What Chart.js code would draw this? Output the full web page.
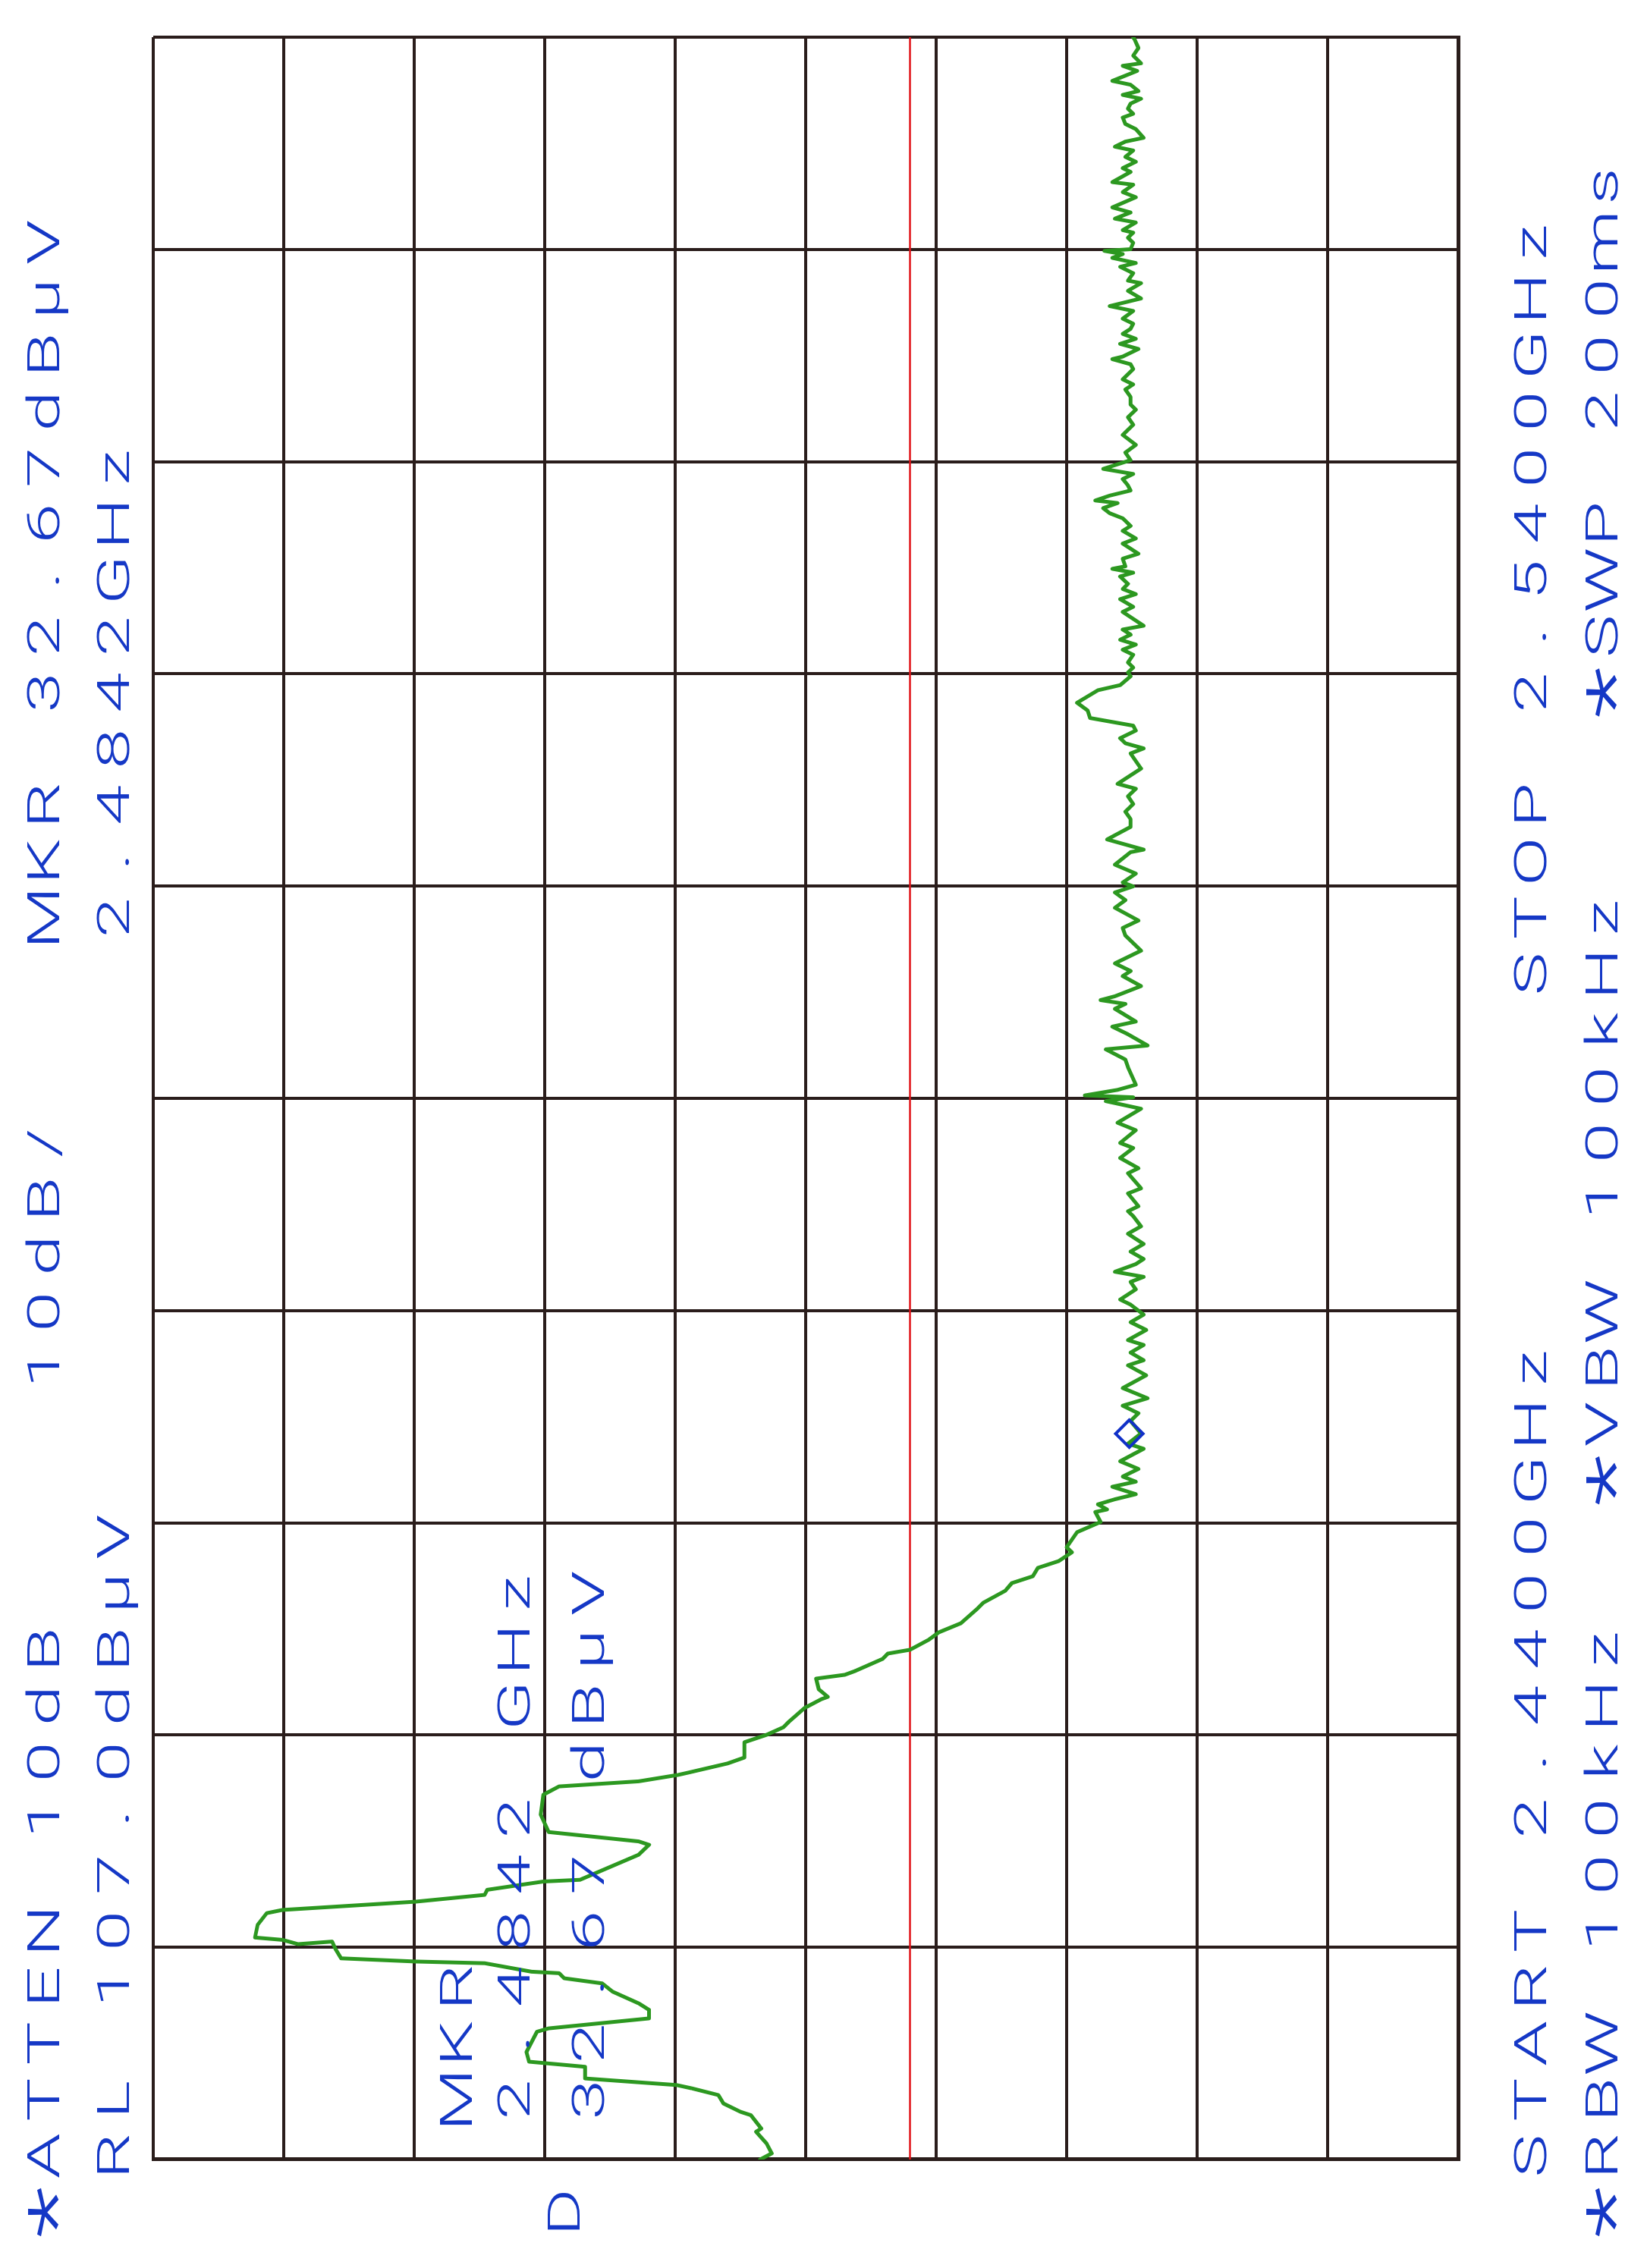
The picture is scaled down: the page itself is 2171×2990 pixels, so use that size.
<!DOCTYPE html>
<html>
<head>
<meta charset="utf-8">
<script src="https://cdn.jsdelivr.net/npm/chart.js@4.4.1/dist/chart.umd.min.js"></script>
<style>
  html, body { margin:0; padding:0; background:#ffffff; width:2171px; height:2990px; overflow:hidden; }
  #wrap { position:absolute; left:0; top:0; width:2990px; height:2171px;
          transform-origin:0 0; transform:translate(0px,2990px) rotate(-90deg); background:#ffffff; }
  canvas { display:block; }
</style>
</head>
<body>
<div id="wrap"><canvas id="c" width="2990" height="2171"></canvas></div>
<script>
// ---- data ----
const freqStartGHz = 2.44;
const freqStopGHz = 2.54;
const refLevel = 107;   // dBµV, top of screen
const bottomLevel = 7;  // dBµV, bottom of screen (10 dB/div)
const displayLine = [49.0];   // red display line, dBµV
const markerFreq = [2.4742];
const markerLevel = [32.2];

const traceFreq = [
2.44000,2.44029,2.44076,2.44131,2.44146,2.44209,2.44225,2.44264,2.44304,2.44335,
2.44351,2.44382,2.44437,2.44461,2.44507,2.44602,2.44618,2.44665,2.44705,2.44736,
2.44791,2.44830,2.44854,2.44878,2.44885,2.44925,2.44933,2.44948,2.44988,2.45027,
2.45015,2.45035,2.45046,2.45106,2.45161,2.45176,2.45215,2.45247,2.45271,2.45310,
2.45318,2.45436,2.45483,2.45499,2.45543,2.45625,2.45719,2.45758,2.45782,2.45812,
2.45823,2.45866,2.45894,2.45966,2.46001,2.46037,2.46062,2.46127,2.46169,2.46180,
2.46216,2.46266,2.46284,2.46302,2.46359,2.46384,2.46402,2.46448,2.46484,2.46527,
2.46598,2.46623,2.46680,2.46716,2.46748,2.46788,2.46820,2.46861,2.46885,2.46956,
2.47004,2.47051,2.47063,2.47087,2.47111,2.47135,2.47170,2.47194,2.47218,2.47254,
2.47290,2.47349,2.47373,2.47421,2.47480,2.47516,2.47552,2.47587,2.47635,2.47695,
2.47742,2.47766,2.47802,2.47838,2.47861,2.47909,2.47945,2.47981,2.48028,2.48052,
2.48100,2.48135,2.48159,2.48183,2.48219,2.48243,2.48278,2.48314,2.48362,2.48397,
2.48445,2.48468,2.48492,2.48552,2.48576,2.48647,2.48671,2.48719,2.48766,2.48790,
2.48850,2.48885,2.48951,2.48987,2.49005,2.49014,2.49040,2.49064,2.49147,2.49183,
2.49231,2.49249,2.49302,2.49338,2.49362,2.49422,2.49445,2.49463,2.49481,2.49529,
2.49576,2.49600,2.49636,2.49696,2.49767,2.49803,2.49838,2.49898,2.49934,2.49970,
2.49999,2.50017,2.50059,2.50101,2.50160,2.50172,2.50220,2.50279,2.50316,2.50351,
2.50387,2.50423,2.50459,2.50482,2.50554,2.50625,2.50649,2.50673,2.50697,2.50733,
2.50756,2.50792,2.50828,2.50864,2.50923,2.50947,2.50989,2.51007,2.51030,2.51054,
2.51090,2.51114,2.51138,2.51161,2.51185,2.51209,2.51227,2.51292,2.51316,2.51352,
2.51376,2.51400,2.51424,2.51459,2.51477,2.51495,2.51507,2.51543,2.51566,2.51614,
2.51638,2.51674,2.51697,2.51733,2.51757,2.51781,2.51805,2.51817,2.51840,2.51864,
2.51888,2.51918,2.51942,2.51966,2.52007,2.52043,2.52079,2.52126,2.52174,2.52209,
2.52245,2.52269,2.52305,2.52340,2.52364,2.52388,2.52436,2.52459,2.52483,2.52495,
2.52531,2.52555,2.52579,2.52602,2.52626,2.52650,2.52674,2.52710,2.52733,2.52769,
2.52805,2.52841,2.52853,2.52888,2.52918,2.52936,2.52960,2.52978,2.52993,2.53001,
2.53031,2.53055,2.53079,2.53091,2.53127,2.53145,2.53174,2.53198,2.53246,2.53270,
2.53305,2.53317,2.53365,2.53383,2.53413,2.53436,2.53466,2.53484,2.53508,2.53526,
2.53567,2.53591,2.53621,2.53639,2.53663,2.53687,2.53710,2.53728,2.53746,2.53776,
2.53794,2.53841,2.53865,2.53877,2.53913,2.53949,2.53990,2.54000
];
const traceLevel = [
60.5,59.6,60.0,60.8,60.4,61.2,62.0,63.3,63.7,65.7,
66.9,73.9,73.9,78.2,78.4,77.6,76.7,69.0,69.0,69.8,
71.8,72.6,75.5,75.9,78.0,81.6,86.9,92.6,93.0,93.3,
95.9,97.1,99.2,99.0,98.3,97.1,86.9,81.6,81.4,77.1,
74.3,69.8,69.0,69.8,76.7,77.3,77.1,75.9,69.8,66.8,
66.0,63.0,61.7,61.7,60.0,58.7,58.3,57.1,55.8,55.3,
56.0,56.2,54.0,53.2,51.1,50.7,49.0,47.6,46.8,45.1,
43.8,43.4,41.7,41.2,39.6,39.2,37.6,36.6,37.0,36.2,
34.4,34.8,33.9,34.6,33.3,31.7,33.5,31.7,32.7,31.5,
32.9,31.1,32.3,31.3,32.1,31.5,32.7,30.8,32.7,30.9,
32.3,31.1,32.1,31.1,32.3,30.9,32.1,31.1,32.1,32.9,
31.7,32.1,31.1,33.3,31.7,31.1,32.1,31.1,32.3,31.3,
31.9,32.3,31.5,32.3,31.3,32.3,31.5,32.9,31.9,32.9,
31.7,33.1,31.3,34.0,31.9,35.6,33.1,31.7,32.3,32.5,
34.0,30.8,32.3,33.5,31.7,33.3,32.5,34.4,33.3,31.3,
32.7,32.1,33.3,31.3,32.5,32.7,31.5,33.3,32.5,33.3,
31.9,32.7,31.7,33.3,32.1,31.1,33.9,32.1,32.1,32.5,
31.9,32.3,31.7,33.1,31.3,32.1,31.1,32.5,32.9,31.7,
31.9,35.2,35.4,36.2,34.6,32.9,32.1,32.3,31.9,32.3,
31.9,32.7,31.7,32.9,32.1,32.7,31.1,32.7,31.9,32.9,
31.7,32.7,32.3,32.9,31.9,33.5,32.5,32.7,31.5,32.7,
31.7,32.7,32.1,32.7,33.7,34.2,33.1,34.8,33.7,32.1,
32.3,32.7,31.9,34.2,32.1,32.5,31.7,32.7,31.9,32.3,
31.7,32.1,32.1,32.5,31.9,32.7,31.9,32.1,33.5,32.7,
31.5,32.9,31.7,32.7,32.1,31.9,32.7,31.9,33.7,31.3,
32.3,31.3,32.3,31.9,32.9,31.7,33.5,32.7,34.1,32.1,
31.9,32.3,31.9,32.7,31.7,33.3,32.1,33.5,31.7,32.7,
31.9,33.5,32.1,32.7,31.7,32.5,31.9,33.3,32.5,31.1,
31.7,32.5,32.7,31.9,32.3,32.1,31.3,32.7,31.5,32.1,
33.5,31.6,32.7,31.3,31.9,31.5,31.8,31.9
];

// annotation texts (plotter-style, monospace cells)
const headerLine1 = "*ATTEN 10dB    10dB/   MKR 32.67dBµV";
const headerLine2 = " RL 107.0dBµV          2.4842GHz";
const footerLine1 = " START 2.4400GHz      STOP 2.5400GHz";
const footerLine2 = "*RBW 100kHz  *VBW 100kHz   *SWP 200ms";
const markerLines = ["  MKR", "  2.4842 GHz", "  32.67 dBµV"];
const displayTag = ["D"];

// ---- drawing ----
const tracePts = traceFreq.map((f, i) => ({ x: f, y: traceLevel[i] }));
const linePts = [{ x: freqStartGHz, y: displayLine[0] }, { x: freqStopGHz, y: displayLine[0] }];
const markerPts = markerFreq.map((f, i) => ({ x: f, y: markerLevel[i] }));

const BLUE = '#1538c6';
const GRID = '#2a1d1b';

const textPlugin = {
  id: 'plotterText',
  afterDraw(chart) {
    const ctx = chart.ctx;
    const cell = 74.2, x0 = 47, glyphW = 53;
    const rows = [
      { s: headerLine1, base: 78 },
      { s: headerLine2, base: 170 },
      { s: markerLines[0], base: 622 },
      { s: markerLines[1], base: 698 },
      { s: displayTag[0], base: 764 },
      { s: markerLines[2], base: 796 },
      { s: footerLine1, base: 2038 },
      { s: footerLine2, base: 2132 }
    ];
    ctx.save();
    ctx.fillStyle = BLUE;
    ctx.textAlign = 'center';
    ctx.textBaseline = 'alphabetic';
    rows.forEach(r => {
      [...r.s].forEach((ch, i) => {
        if (ch === ' ') return;
        const cx = x0 + cell * i + glyphW / 2;
        ctx.save();
        ctx.translate(cx, r.base);
        ctx.scale(1.6, 1);
        if (ch === '*') {
          ctx.font = '300 100px Roboto';
          ctx.fillText(ch, 0, 30);
        } else {
          ctx.font = '300 60px Roboto';
          ctx.fillText(ch, 0, 0);
        }
        ctx.restore();
      });
    });
    ctx.restore();
  }
};

const bgPlugin = {
  id: 'bg',
  beforeDraw(chart) {
    const ctx = chart.ctx;
    ctx.save();
    ctx.fillStyle = '#ffffff';
    ctx.fillRect(0, 0, chart.width, chart.height);
    ctx.restore();
  }
};

new Chart(document.getElementById('c'), {
  type: 'scatter',
  data: {
    datasets: [
      { label: 'marker', data: markerPts, order: 0, showLine: false,
        pointStyle: 'rectRot', pointRadius: 18, pointBorderWidth: 4,
        pointBorderColor: '#1030c8', pointBackgroundColor: 'rgba(0,0,0,0)' },
      { label: 'trace', data: tracePts, order: 1, showLine: true,
        borderColor: '#2c9820', borderWidth: 5, pointRadius: 0, tension: 0,
        borderJoinStyle: 'round', borderCapStyle: 'round' },
      { label: 'display line', data: linePts, order: 2, showLine: true,
        borderColor: '#e0141a', borderWidth: 2.5, pointRadius: 0 }
    ]
  },
  options: {
    responsive: false,
    animation: false,
    devicePixelRatio: 1,
    layout: { padding: { left: 143, right: 49, top: 202, bottom: 249 } },
    plugins: { legend: { display: false }, tooltip: { enabled: false }, title: { display: false } },
    scales: {
      x: {
        type: 'linear', min: freqStartGHz, max: freqStopGHz,
        afterFit(s) { s.height = 0; },
        ticks: { display: false, stepSize: 0.01 },
        grid: { color: GRID, lineWidth: 4, drawTicks: false },
        border: { display: true, color: GRID, width: 5 }
      },
      y: {
        type: 'linear', min: bottomLevel, max: refLevel,
        afterFit(s) { s.width = 0; },
        ticks: { display: false, stepSize: 10 },
        grid: { color: GRID, lineWidth: 4, drawTicks: false },
        border: { display: true, color: GRID, width: 5 }
      }
    }
  },
  plugins: [bgPlugin, textPlugin]
});
</script>
</body>
</html>
